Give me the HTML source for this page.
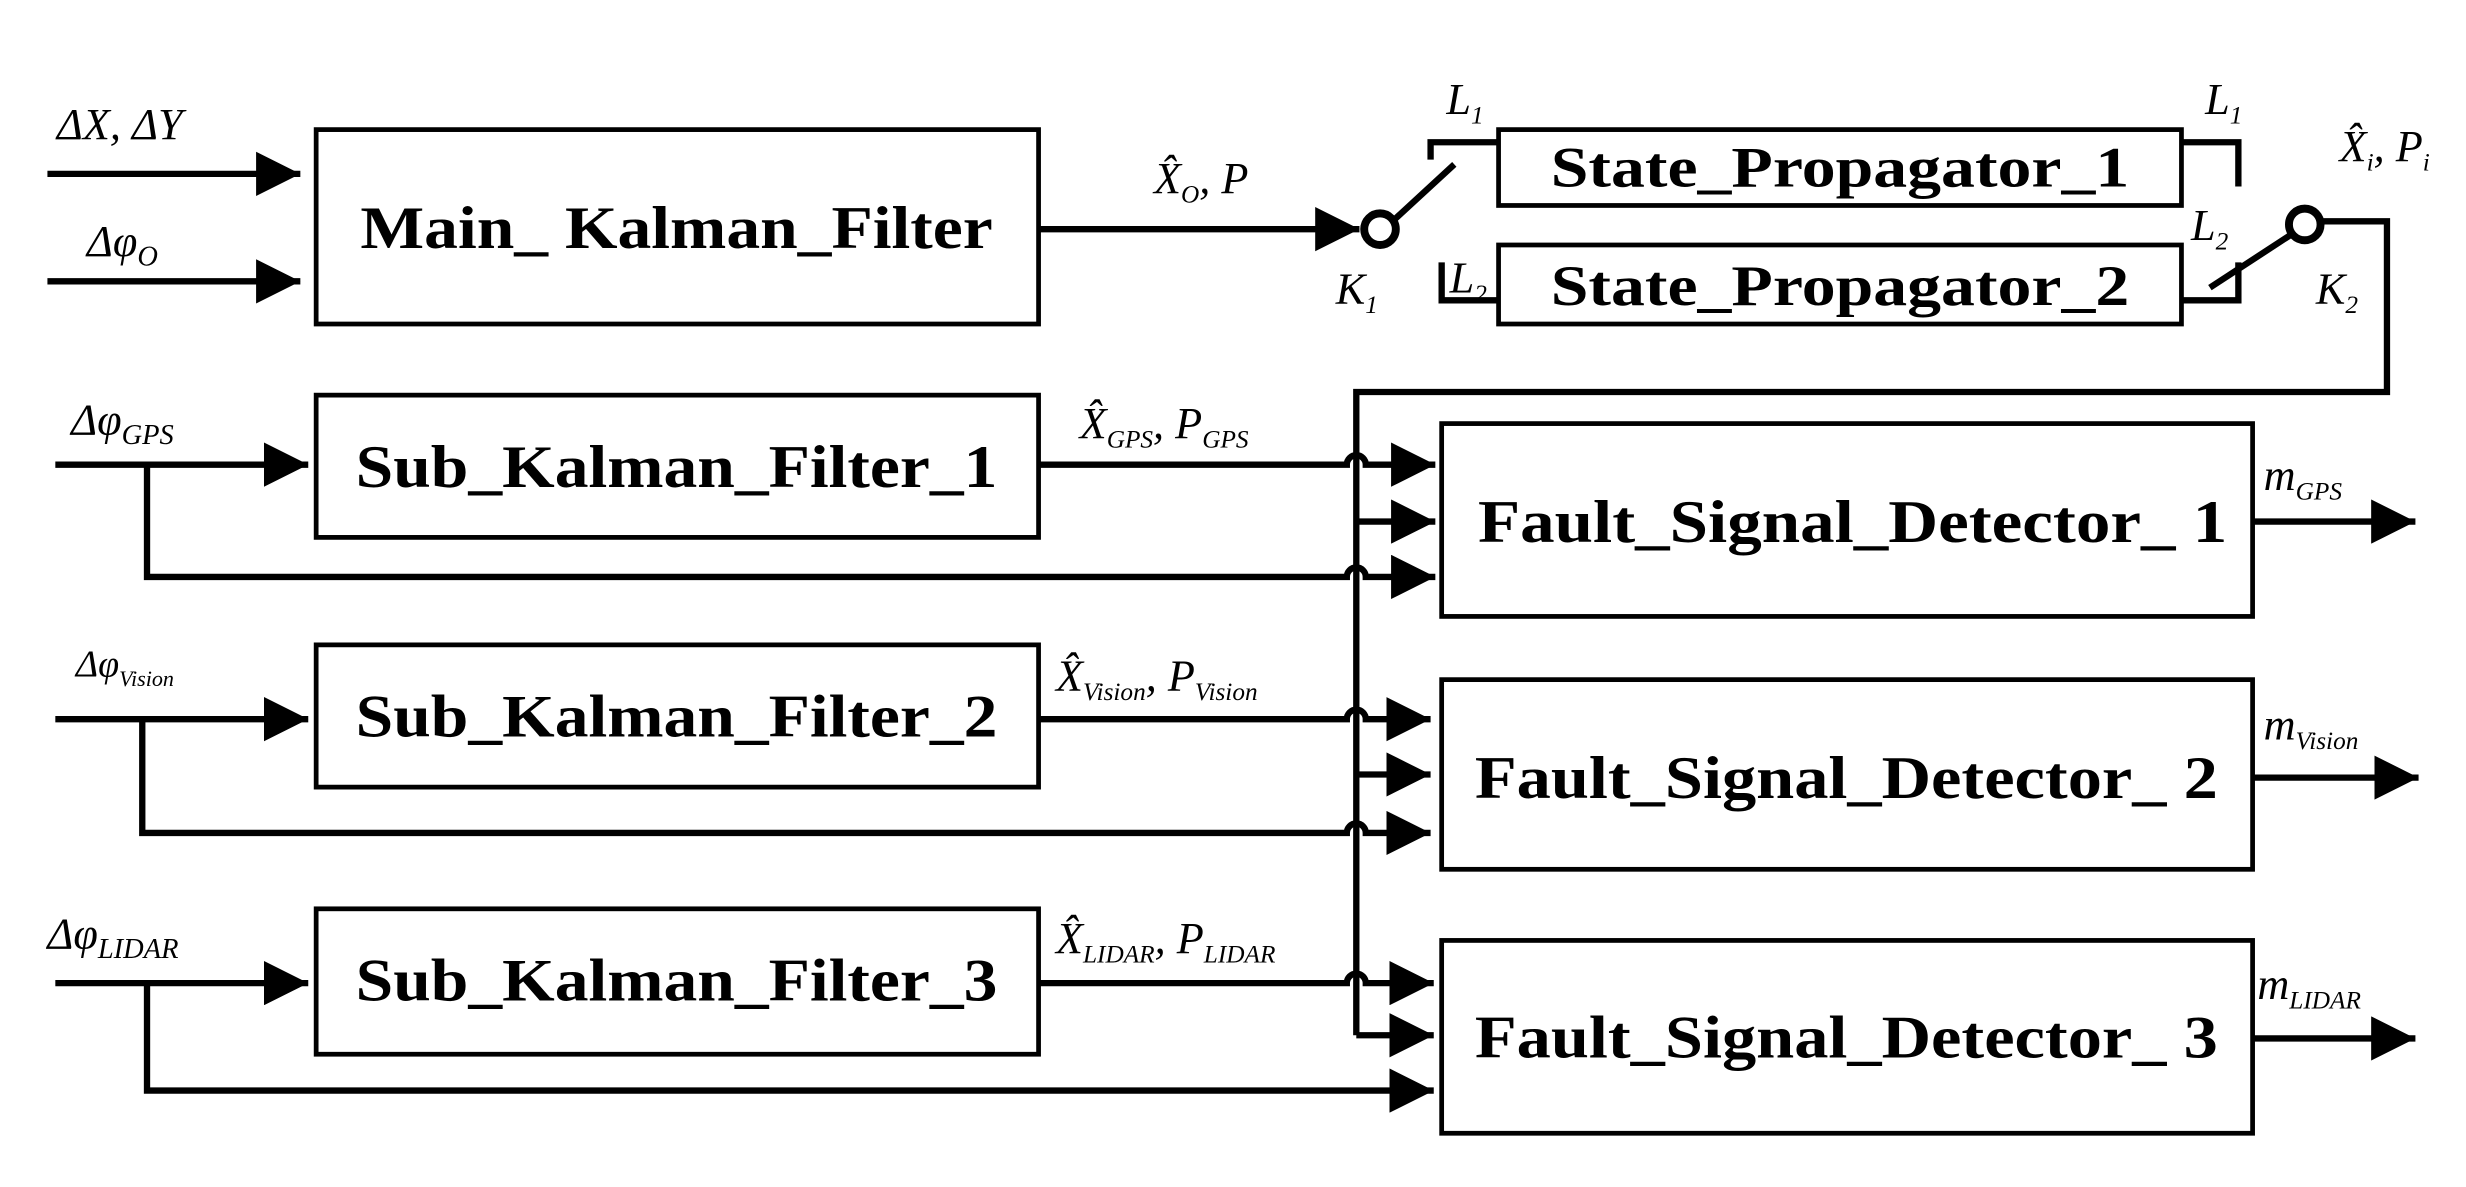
<!DOCTYPE html>
<html><head><meta charset="utf-8"><style>html,body{margin:0;padding:0;background:#fff}svg{display:block}</style></head>
<body>
<svg width="2466" height="1187" viewBox="0 0 1560 751" preserveAspectRatio="none" xmlns="http://www.w3.org/2000/svg">
<defs>
<marker id="a" viewBox="0 0 10 10" refX="10" refY="5" markerWidth="7" markerHeight="7" markerUnits="strokeWidth" orient="auto"><path d="M0,0 L10,5 L0,10 z" fill="#000"/></marker>
</defs>
<g fill="none" stroke="#000" stroke-width="3">
<rect x="200" y="82" width="457" height="123"/>
<rect x="948" y="82" width="432" height="48"/>
<rect x="948" y="155" width="432" height="50"/>
<rect x="200" y="250" width="457" height="90"/>
<rect x="200" y="408" width="457" height="90"/>
<rect x="200" y="575" width="457" height="92"/>
<rect x="912" y="268" width="513" height="122"/>
<rect x="912" y="430" width="513" height="120"/>
<rect x="912" y="595" width="513" height="122"/>
</g>
<g fill="none" stroke="#000" stroke-width="4">
<path d="M30,110 H190" marker-end="url(#a)"/>
<path d="M30,178 H190" marker-end="url(#a)"/>
<path d="M657,145 H860" marker-end="url(#a)"/>
<circle cx="873" cy="145" r="10" stroke-width="5" fill="#fff"/>
<path d="M882,139 L920,104"/>
<path d="M905,101 V90 H948"/>
<path d="M912,166 V190 H948"/>
<path d="M1380,90 H1416 V118"/>
<path d="M1380,190 H1416 V166"/>
<path d="M1398,182 L1450,148"/>
<circle cx="1458" cy="142" r="10" stroke-width="5" fill="#fff"/>
<path d="M1468,140 H1510 V248 H858 V655"/>
<path d="M35,294 H195" marker-end="url(#a)"/>
<path d="M93,294 V365 H852 a6,6 0 0 1 12,0 H908" marker-end="url(#a)"/>
<path d="M657,294 H852 a6,6 0 0 1 12,0 H908" marker-end="url(#a)"/>
<path d="M858,330 H908" marker-end="url(#a)"/>
<path d="M35,455 H195" marker-end="url(#a)"/>
<path d="M90,455 V527 H852 a6,6 0 0 1 12,0 H905" marker-end="url(#a)"/>
<path d="M657,455 H852 a6,6 0 0 1 12,0 H905" marker-end="url(#a)"/>
<path d="M858,490 H905" marker-end="url(#a)"/>
<path d="M35,622 H195" marker-end="url(#a)"/>
<path d="M93,622 V690 H907" marker-end="url(#a)"/>
<path d="M657,622 H852 a6,6 0 0 1 12,0 H907" marker-end="url(#a)"/>
<path d="M858,655 H907" marker-end="url(#a)"/>
<path d="M1425,330 H1528" marker-end="url(#a)"/>
<path d="M1425,492 H1530" marker-end="url(#a)"/>
<path d="M1425,657 H1528" marker-end="url(#a)"/>
</g>
<g font-family="Liberation Serif, serif" font-weight="bold" font-size="38" text-anchor="middle" fill="#000">
<text x="428" y="157" textLength="400" lengthAdjust="spacingAndGlyphs">Main_ Kalman_Filter</text>
<text x="1164" y="118" font-size="36" textLength="366" lengthAdjust="spacingAndGlyphs">State_Propagator_1</text>
<text x="1164" y="193" font-size="36" textLength="366" lengthAdjust="spacingAndGlyphs">State_Propagator_2</text>
<text x="428" y="308" textLength="406" lengthAdjust="spacingAndGlyphs">Sub_Kalman_Filter_1</text>
<text x="428" y="466" textLength="406" lengthAdjust="spacingAndGlyphs">Sub_Kalman_Filter_2</text>
<text x="428" y="633" textLength="406" lengthAdjust="spacingAndGlyphs">Sub_Kalman_Filter_3</text>
<text x="1172" y="343" textLength="474" lengthAdjust="spacingAndGlyphs">Fault_Signal_Detector_ 1</text>
<text x="1168" y="505" textLength="470" lengthAdjust="spacingAndGlyphs">Fault_Signal_Detector_ 2</text>
<text x="1168" y="669" textLength="470" lengthAdjust="spacingAndGlyphs">Fault_Signal_Detector_ 3</text>
</g>
<g font-family="Liberation Serif, serif" font-style="italic" font-size="28" fill="#000">
<text x="36" y="88">ΔX, ΔY</text>
<text x="55" y="162">Δφ<tspan font-size="18" dy="6">O</tspan></text>
<text x="730" y="122">X̂<tspan font-size="16" dy="6">O</tspan><tspan dy="-6">, P</tspan></text>
<text x="915" y="72">L<tspan font-size="16" dy="6">1</tspan></text>
<text x="1395" y="72">L<tspan font-size="16" dy="6">1</tspan></text>
<text x="1480" y="102">X̂<tspan font-size="16" dy="6">i</tspan><tspan dy="-6">, P</tspan><tspan font-size="16" dy="6">i</tspan></text>
<text x="845" y="192">K<tspan font-size="16" dy="6">1</tspan></text>
<text x="1465" y="192">K<tspan font-size="16" dy="6">2</tspan></text>
<text x="917" y="185">L<tspan font-size="16" dy="6">2</tspan></text>
<text x="1386" y="152">L<tspan font-size="16" dy="6">2</tspan></text>
<text x="45" y="275">Δφ<tspan font-size="18" dy="6">GPS</tspan></text>
<text x="48" y="428" font-size="24">Δφ<tspan font-size="14" dy="6">Vision</tspan></text>
<text x="30" y="600">Δφ<tspan font-size="18" dy="6">LIDAR</tspan></text>
<text x="683" y="277">X̂<tspan font-size="16" dy="6">GPS</tspan><tspan dy="-6">, P</tspan><tspan font-size="16" dy="6">GPS</tspan></text>
<text x="668" y="437">X̂<tspan font-size="16" dy="6">Vision</tspan><tspan dy="-6">, P</tspan><tspan font-size="16" dy="6">Vision</tspan></text>
<text x="668" y="603">X̂<tspan font-size="16" dy="6">LIDAR</tspan><tspan dy="-6">, P</tspan><tspan font-size="16" dy="6">LIDAR</tspan></text>
<text x="1432" y="310">m<tspan font-size="16" dy="6">GPS</tspan></text>
<text x="1432" y="468">m<tspan font-size="16" dy="6">Vision</tspan></text>
<text x="1428" y="632">m<tspan font-size="16" dy="6">LIDAR</tspan></text>
</g>
</svg>
</body></html>
